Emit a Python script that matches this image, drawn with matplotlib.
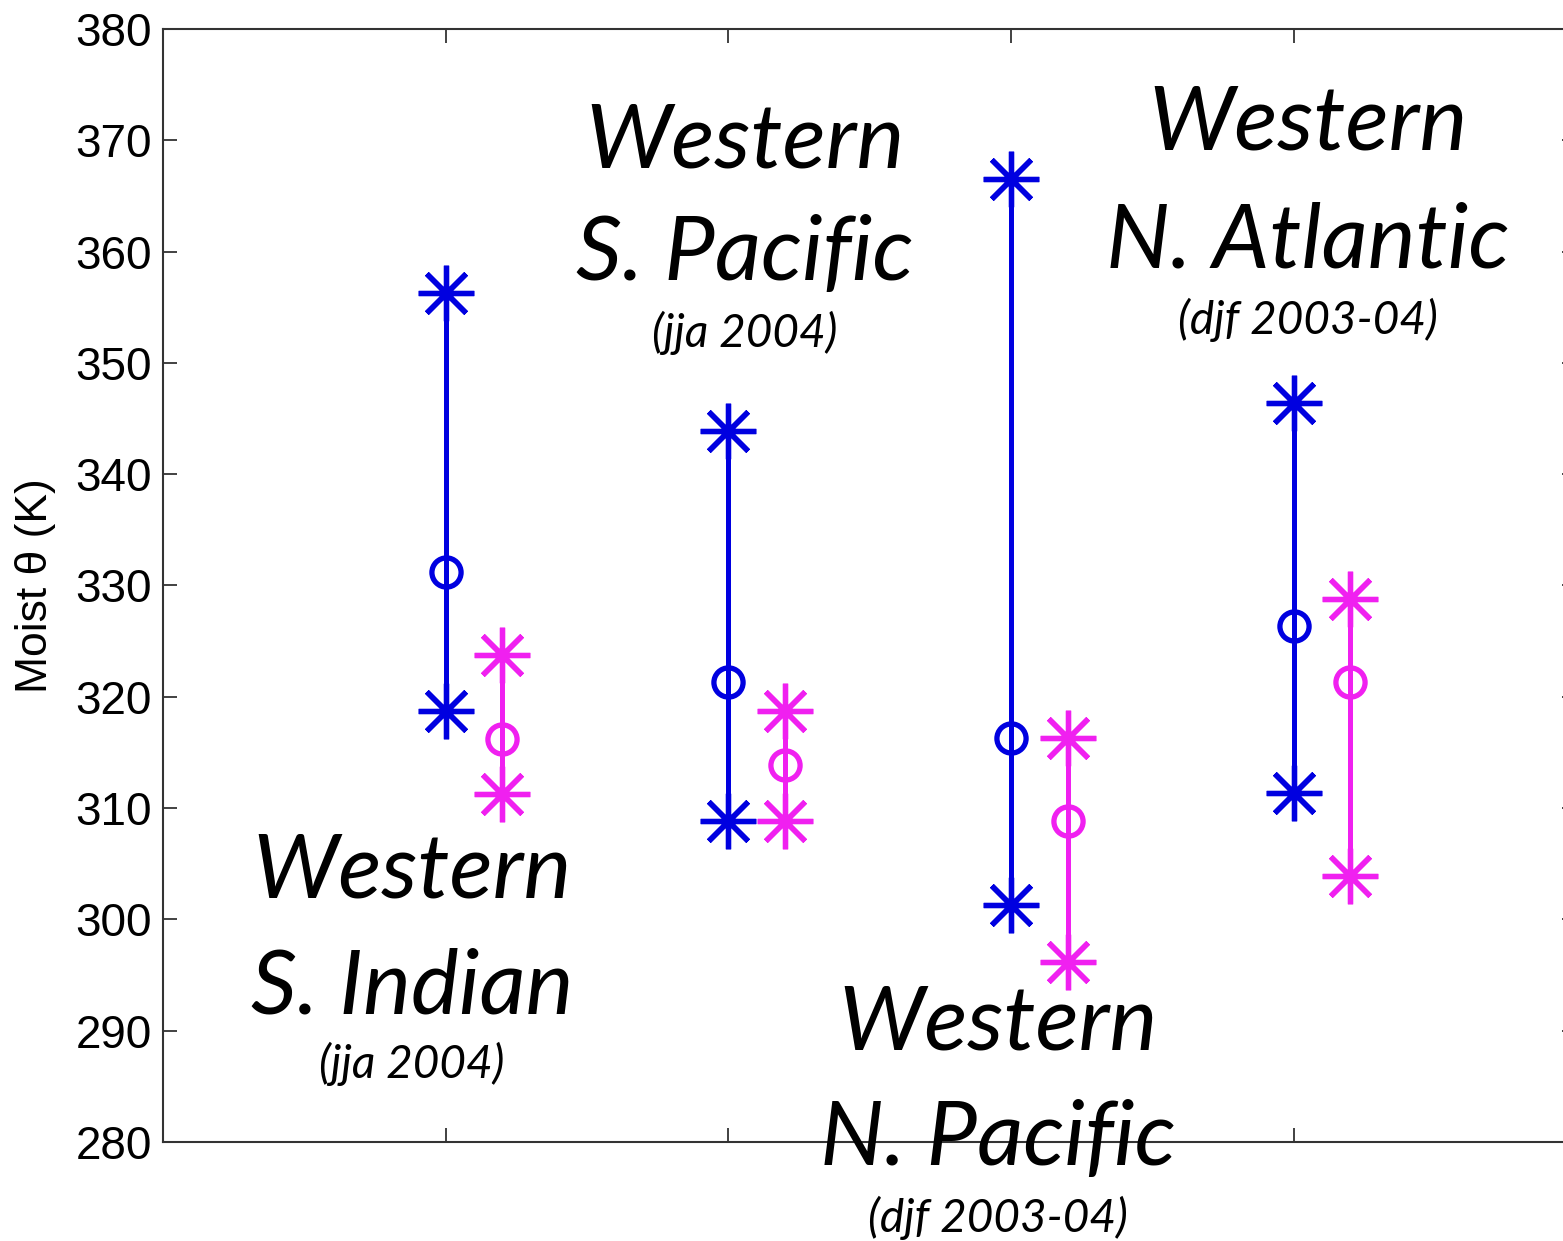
import matplotlib
matplotlib.use("Agg")
import matplotlib.pyplot as plt

# ---- data ----
x_pos = [1, 2, 3, 4]
blue_max = [356.3, 343.9, 366.5, 346.4]
blue_mean = [331.2, 321.3, 316.3, 326.4]
blue_min = [318.7, 308.8, 301.3, 311.4]
mag_max = [323.8, 318.7, 316.3, 328.8]
mag_mean = [316.2, 313.9, 308.8, 321.3]
mag_min = [311.3, 308.8, 296.2, 303.9]
mag_offset = 0.2
y_ticks = [280, 290, 300, 310, 320, 330, 340, 350, 360, 370, 380]
ylabel = "Moist \u03b8 (K)"

labels = [
    ("Western", "S. Indian", "(jja 2004)"),
    ("Western", "S. Pacific", "(jja 2004)"),
    ("Western", "N. Pacific", "(djf 2003-04)"),
    ("Western", "N. Atlantic", "(djf 2003-04)"),
]

W, H = 1563, 1241
fig = plt.figure(figsize=(W / 100, H / 100), dpi=100)
ax = fig.add_axes([163 / W, 99 / H, (1576.5 - 163) / W, (1142 - 29) / H])

BLUE = "#0000e0"
MAG = "#f020f0"

def draw(xs, lo, mid, hi, color):
    for x, a, m, b in zip(xs, lo, mid, hi):
        ax.plot([x, x], [a, b], color=color, lw=3.6, solid_capstyle="butt", zorder=2)
        ax.plot([x, x], [a, b], linestyle="none", marker=(8, 2, 0), ms=40,
                mew=3.8, color=color, zorder=3)
        ax.plot([x], [m], linestyle="none", marker="o", ms=21, mew=3.8,
                mfc="none", mec=color, zorder=3)

draw(x_pos, blue_min, blue_mean, blue_max, BLUE)
draw([x + mag_offset for x in x_pos], mag_min, mag_mean, mag_max, MAG)

ax.set_xlim(0, 5)
ax.set_ylim(280, 380)
ax.set_xticks(x_pos)
ax.set_xticklabels([])
ax.set_yticks(y_ticks)
ax.tick_params(direction="in", length=10, width=1.3, color="#333333",
               top=True, right=True, labelsize=33, pad=8)
for lab in ax.get_yticklabels():
    lab.set_fontfamily("Liberation Sans")
for sp in ax.spines.values():
    sp.set_linewidth(1.5)
    sp.set_color("#333333")
ax.set_ylabel(ylabel, fontsize=32, family="Liberation Sans", labelpad=14)

# annotation blocks: (center x px, baselines px)
blocks = [
    (412, (898, 1013, 1078)),
    (745, (167, 280, 347)),
    (998, (1050, 1165, 1232)),
    (1308, (150, 267, 334)),
]
for (cx, ys), (l1, l2, l3) in zip(blocks, labels):
    for txt, yy, fs in zip((l1, l2, l3), ys, (65, 65, 33)):
        fig.text(cx / W, 1 - yy / H, txt, ha="center", va="baseline",
                 fontsize=fs, style="italic", family="Lato", zorder=5)

fig.savefig("out.png", dpi=100)
